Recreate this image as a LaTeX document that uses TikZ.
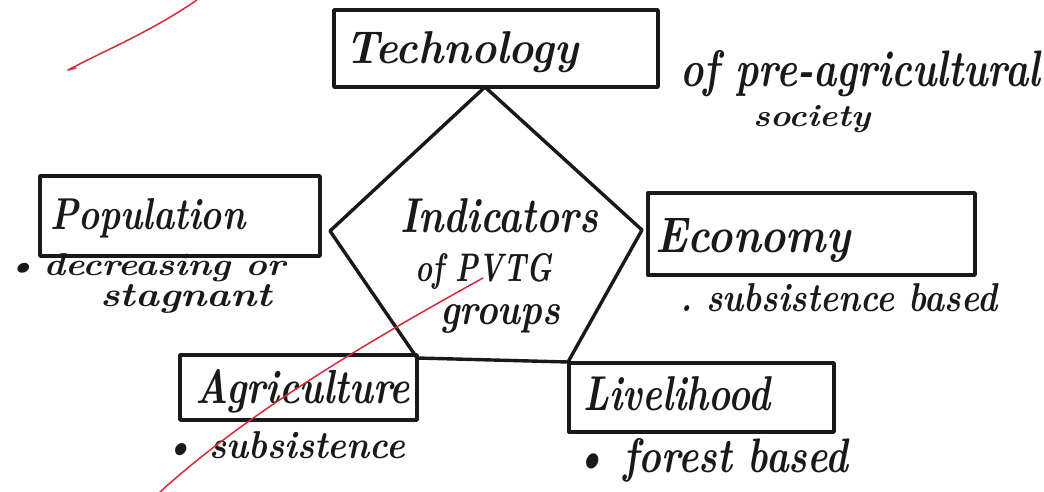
\documentclass[tikz,border=0pt]{standalone}
\usepackage{graphicx}
\newcommand{\fitwh}[3]{\resizebox{#1}{#2}{#3}}
\tikzset{
  ink/.style={line width=3.4pt, draw=inkc, line join=round, line cap=round},
  boxshape/.style={ink, rectangle, inner sep=0pt},
  hand/.style={anchor=base west, inner sep=0pt, text=inkc, font=\bfseries\itshape},
  redmark/.style={draw=redc, line width=1.5pt, line cap=round}
}
\definecolor{inkc}{RGB}{25,25,25}
\definecolor{redc}{RGB}{215,40,60}
\begin{document}
\begin{tikzpicture}[x=1pt,y=-1pt]
\useasboundingbox (0,0) rectangle (1044,492);
% boxes
\node[boxshape, minimum width=324pt, minimum height=77pt] (tech) at (496,48.5) {};
\node[boxshape, minimum width=280pt, minimum height=80pt] (popu) at (180,216) {};
\node[boxshape, minimum width=327pt, minimum height=82pt] (econ) at (811.5,234) {};
\node[boxshape, minimum width=237pt, minimum height=65pt] (agri) at (298.5,387.5) {};
\node[boxshape, minimum width=265pt, minimum height=69pt] (live) at (701.5,397.5) {};
% pentagon vertices
\coordinate (ptop) at (485,87);
\coordinate (pleft) at (330,231);
\coordinate (pright) at (642,230);
\coordinate (pbl) at (417,358);
\coordinate (pbr) at (568,362);
\draw[ink] (ptop) -- (pleft) -- (pbl) -- (pbr) -- (pright) -- cycle;
% box labels
\node[hand] (techt) at (345,64) {\fitwh{233pt}{32pt}{Technology}};
\node[hand] (popt) at (50,229) {\fitwh{195pt}{31pt}{Population}};
\node[hand] (econt) at (655,252) {\fitwh{195pt}{34pt}{Economy}};
\node[hand] (agrit) at (195,403) {\fitwh{215pt}{34pt}{Agriculture}};
\node[hand] (livet) at (583,410) {\fitwh{187pt}{34pt}{Livelihood}};
% centre
\node[hand] (ind1) at (400,232) {\fitwh{198pt}{34pt}{Indicators}};
\node[hand] (ind2) at (415,281) {\fitwh{137pt}{28pt}{of PVTG}};
\node[hand] (ind3) at (440,324) {\fitwh{120pt}{20pt}{groups}};
% annotations
\node[hand] (ann1) at (680,87) {\fitwh{360pt}{36pt}{of pre-agricultural}};
\node[hand] (ann2) at (753,127) {\fitwh{117pt}{21pt}{society}};
\node[hand] (ann3) at (5,275) {\fitwh{280pt}{22pt}{\textbullet\,decreasing or}};
\node[hand] (ann4) at (100,306) {\fitwh{172pt}{22pt}{stagnant}};
\node[hand] (ann5) at (680,311) {\fitwh{317pt}{28pt}{.\ subsistence based}};
\node[hand] (ann6) at (163,458) {\fitwh{242pt}{27pt}{\textbullet\ subsistence}};
\node[hand] (ann7) at (573,472) {\fitwh{275pt}{34pt}{\textbullet\ forest based}};
% red marks
\coordinate (r1a) at (197,0);
\coordinate (r1b) at (68,70);
\draw[redmark] (r1a) .. controls (150,32) and (110,48) .. (r1b);
\draw[redmark] (r1b) -- (76,68);
\coordinate (r2a) at (160,492);
\coordinate (r2b) at (483,278);
\draw[redmark] (r2a) .. controls (250,410) and (380,335) .. (r2b);
\end{tikzpicture}
\end{document}
